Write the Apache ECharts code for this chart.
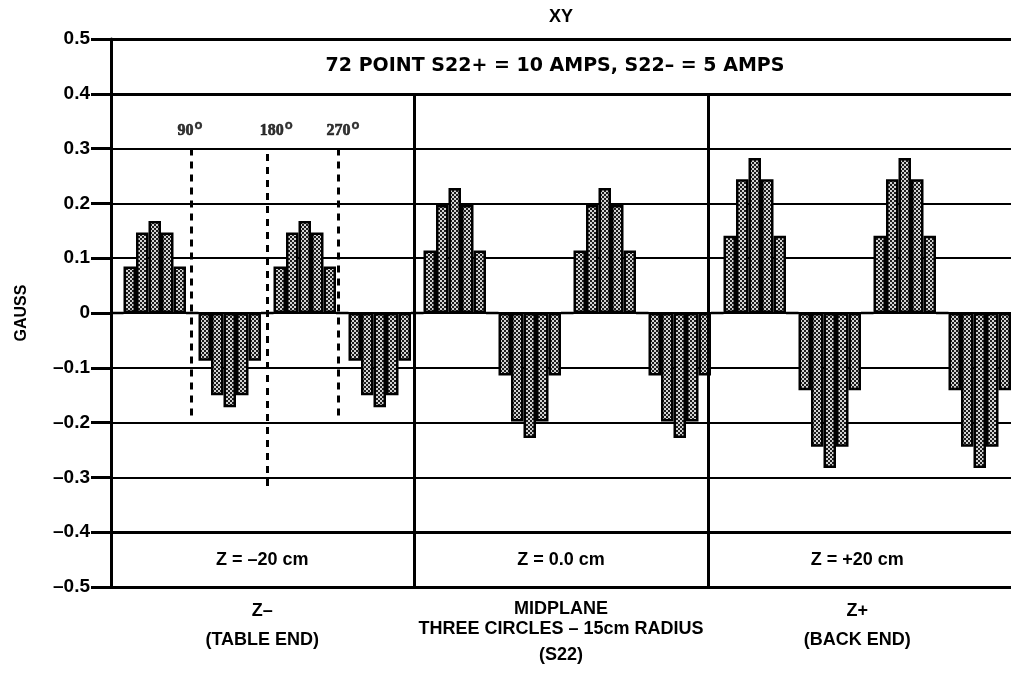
<!DOCTYPE html>
<html>
<head>
<meta charset="utf-8">
<script src="https://cdn.jsdelivr.net/npm/echarts@6/dist/echarts.min.js"></script>
<style>
  html, body { margin: 0; padding: 0; background: #fff; }
  #chart { width: 1011px; height: 679px; }
</style>
</head>
<body>
<div id="chart"></div>
<script>
// XY field component around three 15 cm circles, 24 readings per circle (every 15°)
const zMinus   = [0, 0.085, 0.147, 0.168, 0.147, 0.085, 0, -0.087, -0.150, -0.172, -0.150, -0.087,
                  0, 0.085, 0.147, 0.168, 0.147, 0.085, 0, -0.087, -0.150, -0.172, -0.150, -0.087];
const midplane = [0, 0.114, 0.197, 0.228, 0.197, 0.114, 0, -0.114, -0.198, -0.228, -0.198, -0.114,
                  0, 0.114, 0.197, 0.228, 0.197, 0.114, 0, -0.114, -0.198, -0.228, -0.198, -0.114];
const zPlus    = [0, 0.141, 0.244, 0.283, 0.244, 0.141, 0, -0.141, -0.244, -0.283, -0.244, -0.141,
                  0, 0.141, 0.244, 0.283, 0.244, 0.141, 0, -0.141, -0.244, -0.283, -0.244, -0.141];

const gaussTicks = ['–0.5', '–0.4', '–0.3', '–0.2', '–0.1', '0', '0.1', '0.2', '0.3', '0.4', '0.5'];
const circleLabels = ['Z = –20 cm', 'Z = 0.0 cm', 'Z = +20 cm'];
const circleCaptions = [
  ['Z–', '(TABLE END)'],
  ['MIDPLANE', 'THREE CIRCLES – 15cm RADIUS', '(S22)'],
  ['Z+', '(BACK END)']
];
const headerText = '72 POINT S22+ = 10 AMPS, S22– = 5 AMPS';
const angleMarkers = ['90', '180', '270'];

// layout (slot units along the hidden value axis, 0..72)
const markerX = [6.4, 12.5, 18.15];
const markerTop = [0.3, 0.29, 0.3];
const markerBottom = [-0.195, -0.318, -0.195];
const markerLabelShift = [-1, 9, 5];
const dividerX = [24.25, 47.75];
const sectionCenterX = [12.1, 36, 59.7];

const FONT = "'Liberation Sans', Arial, sans-serif";
const WIDE = "'DejaVu Sans', 'Liberation Sans', sans-serif";
const SERIF = "'Liberation Serif', 'Times New Roman', serif";

const points = zMinus.concat(midplane, zPlus);
const slots = points.map((_, i) => String(i));

// dotted halftone fill for the bars
function halftone() {
  const c = document.createElement('canvas');
  c.width = 4; c.height = 4;
  const g = c.getContext('2d');
  g.fillStyle = '#1c1c1c';
  g.fillRect(0, 0, 4, 4);
  g.fillStyle = '#d2d2d2';
  g.fillRect(0, 0, 2, 2);
  g.fillRect(2, 2, 2, 2);
  return c;
}

const chart = echarts.init(document.getElementById('chart'), null, { renderer: 'canvas' });

const solid = (w) => ({ color: '#000', width: w, type: 'solid' });

const markLines = [];
[0.5, 0.4, -0.4, -0.5].forEach(v => markLines.push({ yAxis: v, lineStyle: solid(3) }));
dividerX.forEach(x => markLines.push([
  { coord: [x, 0.4], lineStyle: solid(3) },
  { coord: [x, -0.5] }
]));
angleMarkers.forEach((a, i) => markLines.push([
  { coord: [markerX[i], markerTop[i]], lineStyle: { color: '#000', width: 3, type: [7, 6] } },
  { coord: [markerX[i], markerBottom[i]] }
]));

chart.setOption({
  animation: false,
  backgroundColor: '#fff',
  grid: { left: 111, right: -4, top: 39, bottom: 92, containLabel: false },
  xAxis: [
    { type: 'category', data: slots, show: false, boundaryGap: true },
    { type: 'value', min: 0, max: 72, show: false }
  ],
  yAxis: {
    type: 'value', min: -0.5, max: 0.5, interval: 0.1,
    name: 'GAUSS', nameLocation: 'middle', nameRotate: 90, nameGap: 81,
    nameTextStyle: { fontFamily: FONT, fontWeight: 'bold', fontSize: 16, color: '#000' },
    axisLine: { show: true, lineStyle: { color: '#000', width: 3 } },
    axisTick: { show: true, length: 20, lineStyle: { color: '#000', width: 3 } },
    axisLabel: {
      margin: 21, color: '#000', fontFamily: FONT, fontWeight: 'bold', fontSize: 19,
      formatter: v => gaussTicks[Math.round((v + 0.5) * 10)]
    },
    splitLine: { show: true, lineStyle: { color: '#000', width: 2 } }
  },
  series: [
    {
      type: 'bar', xAxisIndex: 0, yAxisIndex: 0,
      data: points,
      barCategoryGap: '0%',
      itemStyle: { color: { image: halftone(), repeat: 'repeat' }, borderColor: '#000', borderWidth: 2.5 },
      z: 3, silent: true
    },
    {
      type: 'scatter', xAxisIndex: 1, yAxisIndex: 0,
      data: angleMarkers.map((a, i) => ({ value: [markerX[i], 0.3], name: a })),
      symbolSize: 0, silent: true, z: 4,
      label: {
        show: true, position: 'top', distance: 5,
        formatter: p => '{n|' + p.name + '}{d|o}',
        rich: {
          n: { fontFamily: SERIF, fontWeight: 'bold', fontSize: 16, color: '#000',
               textBorderColor: '#000', textBorderWidth: 0.6 },
          d: { fontFamily: FONT, fontWeight: 'bold', fontSize: 13, color: '#000', padding: [0, 0, 12, 1],
               textBorderColor: '#000', textBorderWidth: 0.4 }
        }
      },
      labelLayout: p => ({ dx: markerLabelShift[p.dataIndex] }),
      markLine: { symbol: 'none', silent: true, label: { show: false }, data: markLines, z: 5 }
    }
  ]
});

// text placed against the axes
const px = (x, y) => chart.convertToPixel({ xAxisIndex: 1, yAxisIndex: 0 }, [x, y]);
const boldText = (x, y, text, size, family) => ({
  type: 'text', x, y, silent: true, z: 10,
  style: { text, fill: '#000', font: 'bold ' + size + 'px ' + (family || FONT), textAlign: 'center', textVerticalAlign: 'middle' }
});
const graphics = [];
const mid = px(36, 0.45);
graphics.push(boldText(mid[0], 17, 'XY', 18));
graphics.push(boldText(mid[0] - 6, mid[1], headerText, 19, WIDE));
const bottomY = px(0, -0.5)[1];
const captionOffsets = [[24, 53], [22, 42, 68], [24, 53]];
circleLabels.forEach((t, i) => {
  const p = px(sectionCenterX[i], -0.45);
  graphics.push(boldText(p[0], p[1], t, 18));
  circleCaptions[i].forEach((c, j) => graphics.push(boldText(p[0], bottomY + captionOffsets[i][j], c, 18)));
});
chart.setOption({ graphic: graphics });
</script>
</body>
</html>
